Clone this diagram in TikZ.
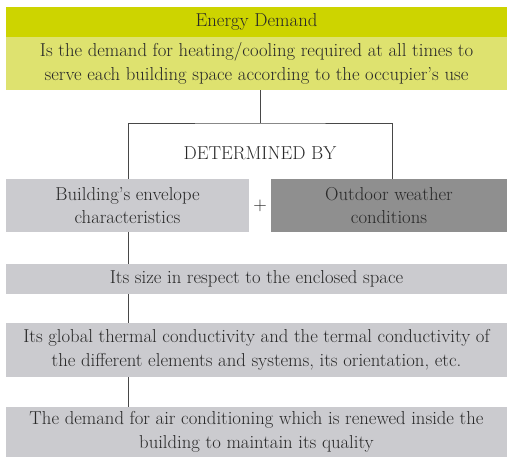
\documentclass[tikz,border=0pt]{standalone}
\usepackage{tikz}
\usetikzlibrary{calc}
\definecolor{limegreen}{RGB}{205,212,0}
\definecolor{palelime}{RGB}{222,226,111}
\definecolor{lightgrey}{RGB}{203,203,207}
\definecolor{darkgrey}{RGB}{143,143,143}
\definecolor{inkgrey}{RGB}{40,40,40}

\begin{document}
\begin{tikzpicture}
    [x=1pt,y=-1pt,
     box/.style={rectangle,inner sep=0pt,align=center,text=inkgrey,
       font=\fontsize{18.7}{23.5}\selectfont},
     wide/.style={box,minimum width=501pt},
     link/.style={draw=inkgrey!85,line width=0.9pt}]

    \useasboundingbox (0,0) rectangle (507,457);

\node[wide,fill=limegreen,minimum height=30pt] (title) at (256.5,22) {Energy Demand};
\node[wide,fill=palelime,minimum height=53pt] (desc) at (256.5,63.5)
    {Is the demand for heating/cooling required at all times to\\serve each building space according to the occupier's use};

\path (260,153) node[box] (detby) {DETERMINED BY};
\coordinate (split) at (260,123);

\node[box,fill=lightgrey,minimum width=243pt,minimum height=53pt] (env) at (127.5,205.5)
    {Building's envelope\\characteristics};
\path (260,206) node[box] (plus) {+};
\node[box,fill=darkgrey,minimum width=236pt,minimum height=53pt] (weather) at (389,205.5)
    {Outdoor weather\\conditions};

\node[wide,fill=lightgrey,minimum height=30pt] (size) at (256.5,279)
    {Its size in respect to the enclosed space};
\node[wide,fill=lightgrey,minimum height=54pt] (cond) at (256.5,350)
    {Its global thermal conductivity and the termal conductivity of\\the different elements and systems, its orientation, etc.};
\node[wide,fill=lightgrey,minimum height=50pt] (air) at (256.5,432)
    {The demand for air conditioning which is renewed inside the\\building to maintain its quality};

\draw[link] (desc.south -| split) -- (split);
\draw[link] ($(env.north)+(0.5,0)$) |- (split) -| ($(weather.north)+(3,0)$);
\draw[link] ($(env.south)+(0.5,0)$) -- ($(env.south |- size.north)+(0.5,0)$);
\draw[link] ($(size.south -| env.south)+(0.5,0)$) -- ($(cond.north -| env.south)+(0.5,0)$);
\draw[link] ($(cond.south -| env.south)+(0.5,0)$) -- ($(air.north -| env.south)+(0.5,0)$);

  \end{tikzpicture}
\end{document}
